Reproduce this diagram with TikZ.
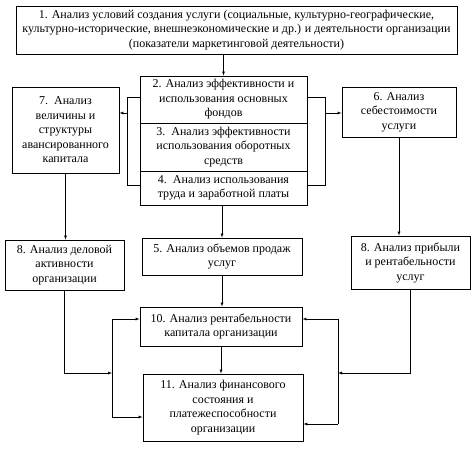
\documentclass[tikz,border=0pt]{standalone}
\usepackage{fontspec}
\setmainfont{Liberation Serif}
\begin{document}
\begin{tikzpicture}[>=latex, x=1pt, y=-1pt,
    box/.style={draw, line width=.9pt, align=center, inner sep=0pt,
      font=\fontsize{12}{14.5}\selectfont}]
    \useasboundingbox (0,0) rectangle (474,450);
    % boxes begin
    \node[box, minimum width=441, minimum height=48] (b1) at (236.5,30)
      {1. Анализ условий создания услуги (социальные, культурно-географические,\\
       культурно-исторические, внешнеэкономические и др.) и деятельности организации\\
       (показатели маркетинговой деятельности)};
    \node[box, minimum width=167, minimum height=47] (b2) at (223.5,99.5)
      {2. Анализ эффективности и\\использования основных\\фондов};
    \node[box, minimum width=167, minimum height=48] (b3) at (223.5,147)
      {3.\ \ Анализ эффективности\\использования оборотных\\средств};
    \node[box, minimum width=167, minimum height=34] (b4) at (223.5,188)
      {4.\ \ Анализ использования\\труда и заработной платы};
    \node[box, minimum width=107, minimum height=86] (b7) at (65.5,130)
      {7.\ \ Анализ\\величины и\\структуры\\авансированного\\капитала};
    \node[box, minimum width=114, minimum height=50] (b6) at (399,112)
      {6. Анализ\\себестоимости\\услуги};
    \node[box, minimum width=119, minimum height=50] (b8l) at (64.5,265)
      {8. Анализ деловой\\активности\\организации};
    \node[box, minimum width=160, minimum height=37] (b5) at (222,256.5)
      {5. Анализ объемов продаж\\услуг};
    \node[box, minimum width=119, minimum height=53] (b8r) at (410.5,262.5)
      {8. Анализ прибыли\\и рентабельности\\услуг};
    \node[box, minimum width=162, minimum height=39] (b10) at (221,326.5)
      {10. Анализ рентабельности\\капитала организации};
    \node[box, minimum width=160, minimum height=67] (b11) at (223,407.5)
      {11. Анализ финансового\\состояния и\\платежеспособности\\организации};
    % boxes end
    \coordinate (lt) at (127,97);
    \coordinate (la) at (127,113);
    \coordinate (lb) at (127,185);
    \coordinate (rt) at (325,97);
    \coordinate (ra) at (325,113);
    \coordinate (rb) at (325,185);
    \coordinate (bl1) at (112,319);
    \coordinate (bl2) at (112,417);
    \coordinate (blm) at (112,373);
    \coordinate (br1) at (338,319);
    \coordinate (br2) at (338,424);
    \coordinate (brm) at (338,373);
    % brackets begin
    \draw (b2.west |- lt) -- (lt) -- (lb) -- (b4.west |- lb);
    \draw[->] (la) -- (b7.east |- la);
    \draw (b2.east |- rt) -- (rt) -- (rb) -- (b4.east |- rb);
    \draw[->] (ra) -- (b6.west |- ra);
    % brackets end
    \draw[->] (b1.south -| b2.north) -- (b2.north);
    \draw[->] (b7.south) -- (b7.south |- b8l.north);
    \draw[->] (b4.south -| b5.north) -- (b5.north);
    \draw[->] (b6.south) -- (b6.south |- b8r.north);
    \draw[->] (b5.south) -- (b5.south |- b10.north);
    \draw[->] (b10.south) -- (b10.south |- b11.north);
    % buses begin
    \draw[->] (b8l.south) |- (blm);
    \draw (bl1) -- (bl2);
    \draw[->] (bl1) -- (b10.west |- bl1);
    \draw[->] (bl2) -- (b11.west |- bl2);
    \draw[->] (b8r.south) |- (brm);
    \draw (br1) -- (br2);
    \draw[->] (br1) -- (b10.east |- br1);
    \draw[->] (br2) -- (b11.east |- br2);
    % buses end
\end{tikzpicture}
\end{document}
